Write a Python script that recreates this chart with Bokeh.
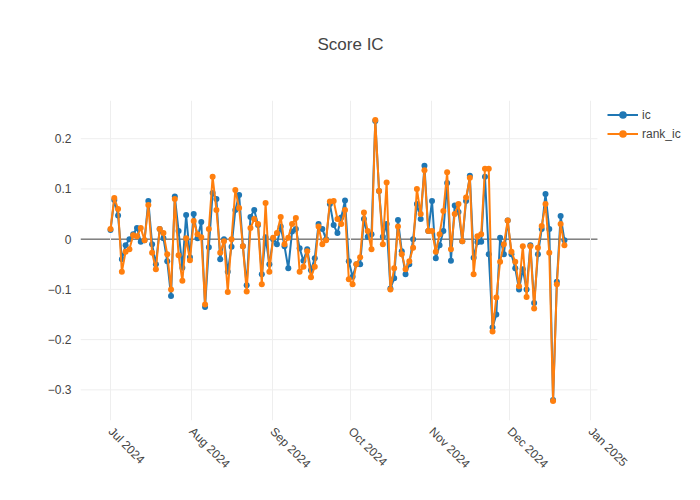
import math
import pandas as pd
from bokeh.plotting import figure
from bokeh.models import (Range1d, FixedTicker, CustomJSTickFormatter, DatetimeTickFormatter,
                          Legend, LegendItem, Title, ColumnDataSource)
from bokeh.embed import file_html
from bokeh.resources import INLINE

# ---------------- data ----------------
first_date = "2024-07-01"
last_date = "2024-12-22"

ic = [
    0.018, 0.078, 0.047, -0.040, -0.012, 0.000, 0.010, 0.022, -0.005, -0.002,
    0.076, -0.010, -0.050, 0.020, 0.002, -0.044, -0.113, 0.085, 0.016, -0.057,
    0.048, -0.036, 0.050, 0.002, 0.034, -0.135, -0.016, 0.092, 0.080, -0.040,
    0.000, -0.065, -0.015, 0.058, 0.088, -0.014, -0.092, 0.044, 0.058, 0.028,
    -0.070, 0.004, -0.050, 0.000, -0.010, 0.025, -0.014, -0.058, 0.015, 0.020,
    -0.018, -0.043, -0.020, -0.062, -0.038, 0.030, 0.020, 0.000, 0.070, 0.028,
    0.012, 0.043, 0.077, -0.044, -0.075, -0.050, -0.050, 0.040, 0.005, 0.010,
    0.235, 0.096, 0.005, 0.030, -0.098, -0.078, 0.038, -0.024, -0.070, -0.050,
    0.000, 0.070, 0.040, 0.146, 0.016, 0.076, -0.038, -0.012, 0.016, 0.112,
    -0.043, 0.067, 0.054, -0.004, 0.076, 0.126, -0.037, -0.006, -0.005, 0.124,
    -0.030, -0.176, -0.150, 0.003, -0.030, 0.037, -0.030, -0.058, -0.100, -0.060,
    -0.100, -0.012, -0.127, -0.030, 0.020, 0.090, 0.020, -0.320, -0.085, 0.046,
    -0.002,
]

rank_ic = [
    0.020, 0.082, 0.060, -0.065, -0.025, -0.020, 0.008, 0.006, 0.022, -0.002,
    0.068, -0.027, -0.060, 0.020, 0.012, -0.030, -0.100, 0.080, -0.032, -0.083,
    0.002, -0.042, 0.036, 0.010, 0.004, -0.130, 0.020, 0.124, 0.058, -0.027,
    -0.004, -0.105, 0.000, 0.098, 0.062, -0.014, -0.104, 0.022, 0.040, 0.030,
    -0.090, 0.072, -0.065, 0.003, 0.012, 0.044, -0.010, 0.003, 0.030, 0.042,
    -0.065, -0.055, -0.024, -0.076, -0.055, 0.025, -0.010, -0.002, 0.075, 0.076,
    0.040, 0.030, 0.058, -0.080, -0.090, -0.050, -0.036, 0.053, 0.016, -0.020,
    0.237, 0.096, -0.010, 0.113, -0.100, -0.058, 0.025, -0.030, -0.060, -0.044,
    -0.017, 0.100, 0.050, 0.137, 0.016, 0.016, -0.025, 0.010, 0.056, 0.133,
    -0.020, 0.050, 0.070, -0.004, 0.083, 0.122, -0.070, 0.006, 0.010, 0.140,
    0.140, -0.184, -0.116, -0.045, -0.010, 0.037, -0.025, -0.045, -0.094, -0.014,
    -0.115, -0.014, -0.138, -0.017, 0.026, 0.070, -0.027, -0.322, -0.090, 0.030,
    -0.012,
]

month_ticks = ["2024-07-01", "2024-08-01", "2024-09-01", "2024-10-01",
               "2024-11-01", "2024-12-01", "2025-01-01"]
y_ticks = [-0.3, -0.2, -0.1, 0.0, 0.1, 0.2]
series_names = ["ic", "rank_ic"]
series_colors = ["#1f77b4", "#ff7f0e"]
title_text = "Score IC"

# ---------------- layout constants ----------------
FONT = "Liberation Sans"
TXT = "#444444"
X_LO = pd.Timestamp("2024-06-19 12:00")      # left edge of plotting area
X_HI = pd.Timestamp("2025-01-03 16:00")      # right edge of visible plotting area
X_CANVAS_HI = pd.Timestamp("2025-02-12 04:00")  # frame extends under the legend
Y_LO, Y_HI = -0.361, 0.276

dates = pd.date_range(first_date, last_date, periods=len(ic))
src = ColumnDataSource(dict(date=dates, ic=ic, rank_ic=rank_ic))

p = figure(width=700, height=500, x_axis_type="datetime", output_backend="svg",
           toolbar_location=None, title=None,
           x_range=Range1d(X_LO, X_CANVAS_HI), y_range=Range1d(Y_LO, Y_HI),
           min_border_left=80, min_border_right=0, min_border_top=100, min_border_bottom=80)
p.outline_line_color = None
p.background_fill_color = "white"
p.border_fill_color = "white"

# titles: spacer nearest the frame, then the real title
p.add_layout(Title(text=" ", text_font_size="27px", text_font=FONT), "above")
p.add_layout(Title(text=title_text, align="left", offset=237, text_font_size="17px",
                   text_font_style="normal", text_color=TXT, text_font=FONT), "above")

tick_ms = [pd.Timestamp(t).value / 1e6 for t in month_ticks]
p.xaxis.ticker = FixedTicker(ticks=tick_ms)
fmt = "%b %Y"
p.xaxis.formatter = DatetimeTickFormatter(
    microseconds=fmt, milliseconds=fmt, seconds=fmt, minsec=fmt, minutes=fmt,
    hourmin=fmt, hours=fmt, days=fmt, months=fmt, years=fmt)
p.xaxis.major_label_orientation = -math.pi / 4
p.xgrid.ticker = FixedTicker(ticks=tick_ms)
p.xgrid.grid_line_color = "#eeeeee"

p.yaxis.ticker = FixedTicker(ticks=y_ticks)
p.ygrid.visible = False
p.yaxis.formatter = CustomJSTickFormatter(code="""
    if (Math.abs(tick) < 1e-9) { return "0"; }
    return (tick < 0 ? "\\u2212" : "") + Math.abs(tick).toFixed(1);
""")

for ax in (p.xaxis, p.yaxis):
    ax.axis_line_color = None
    ax.major_tick_line_color = None
    ax.minor_tick_line_color = None
    ax.major_label_text_font = FONT
    ax.major_label_text_font_size = "12px"
    ax.major_label_text_color = TXT
p.yaxis.major_label_standoff = 3
p.xaxis.major_label_standoff = 3

# horizontal grid lines limited to the visible plotting area
grid_src = ColumnDataSource(dict(x0=[X_LO] * len(y_ticks), x1=[X_HI] * len(y_ticks), y=y_ticks))
p.segment(x0="x0", x1="x1", y0="y", y1="y", source=grid_src,
          line_color="#eeeeee", line_width=1, level="underlay")
# zero line
p.segment(x0=[X_LO], x1=[X_HI], y0=[0], y1=[0], line_color="#444444", line_width=1,
          level="underlay")

items = []
for name, col in zip(series_names, series_colors):
    rl = p.line("date", name, source=src, line_color=col, line_width=2)
    rs = p.scatter("date", name, source=src, fill_color=col, line_color=None, size=6)
    items.append(LegendItem(label=name, renderers=[rl, rs]))

legend = Legend(items=items, location=(527, 277), orientation="vertical",
                label_text_font=FONT, label_text_font_size="12px", label_text_color=TXT,
                glyph_width=31, glyph_height=19, label_height=19,
                label_standoff=4, spacing=0, padding=5, margin=0,
                border_line_color=None, background_fill_alpha=0)
p.add_layout(legend, "center")

with open("out.html", "w", encoding="utf-8") as f:
    f.write(file_html(p, INLINE))
